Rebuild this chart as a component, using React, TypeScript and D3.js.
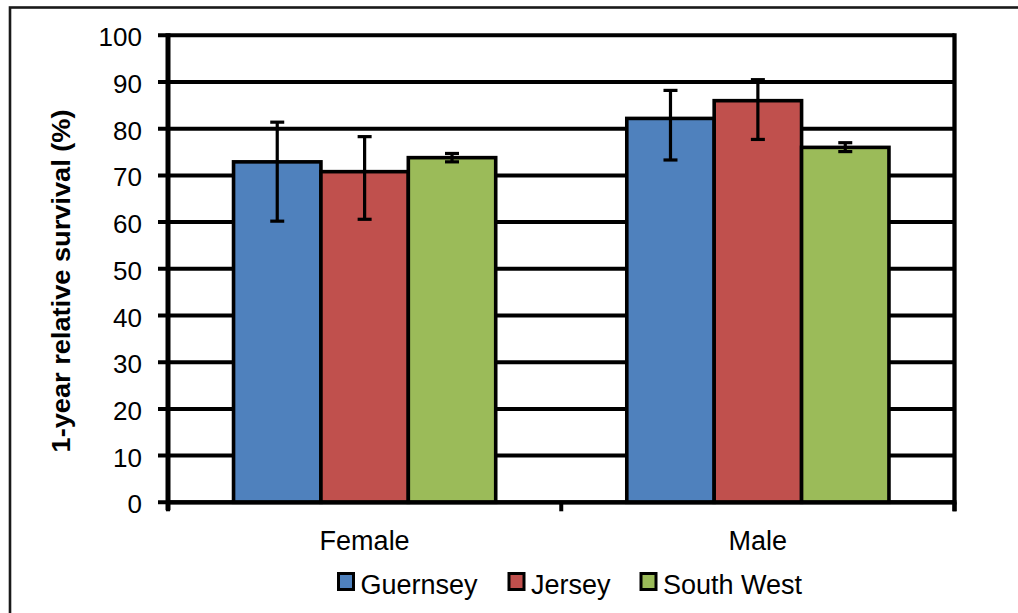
import React from "react";
import * as d3 from "d3";

const categories = ["Female", "Male"];
const seriesNames = ["Guernsey", "Jersey", "South West"];
const seriesColors = ["#4F81BD", "#C0504D", "#9BBB59"];

const guernsey = [72.9, 82.2];
const guernseyLow = [60.2, 73.3];
const guernseyHigh = [81.4, 88.2];

const jersey = [70.8, 86.0];
const jerseyLow = [60.6, 77.7];
const jerseyHigh = [78.3, 90.5];

const southWest = [73.8, 76.0];
const southWestLow = [72.9, 75.1];
const southWestHigh = [74.7, 77.0];

const yTicks = [0, 10, 20, 30, 40, 50, 60, 70, 80, 90, 100];

const W = 1018;
const H = 613;
const plotLeft = 168;
const plotRight = 954.5;
const plotTop = 35.3;
const plotBottom = 502.3;
const FONT = "'Liberation Sans', Arial, Helvetica, sans-serif";

const series = [
  { name: seriesNames[0], color: seriesColors[0], values: guernsey, low: guernseyLow, high: guernseyHigh },
  { name: seriesNames[1], color: seriesColors[1], values: jersey, low: jerseyLow, high: jerseyHigh },
  { name: seriesNames[2], color: seriesColors[2], values: southWest, low: southWestLow, high: southWestHigh },
];

const legendX = [337, 507.5, 639.5];

export default function App() {
  const y = d3.scaleLinear().domain([0, 100]).range([plotBottom, plotTop]);
  const x0 = d3.scaleBand<string>().domain(categories).range([plotLeft, plotRight]).padding(0);
  const x1 = d3
    .scaleBand<string>()
    .domain(seriesNames)
    .range([0, x0.bandwidth()])
    .paddingInner(0)
    .paddingOuter(0.75);

  const bounds = [plotLeft, ...categories.map((c) => (x0(c) as number) + x0.bandwidth())];

  return (
    <svg
      width={W}
      height={H}
      style={{ position: "absolute", left: 0, top: 0, background: "#fff" }}
      fontFamily={FONT}
    >
      <rect x={0} y={0} width={W} height={H} fill="#fff" />
      {/* outer chart border */}
      <rect x={10} y={7.5} width={1200} height={800} fill="none" stroke="#1a1a1a" strokeWidth={2.6} />

      {/* gridlines */}
      {yTicks.map((t) => (
        <line key={"g" + t} x1={plotLeft - 10} x2={plotRight} y1={y(t)} y2={y(t)} stroke="#000" strokeWidth={4} />
      ))}
      {/* right border */}
      <line x1={plotRight} x2={plotRight} y1={plotTop - 2} y2={plotBottom + 9} stroke="#000" strokeWidth={4.3} />

      {/* bars */}
      {series.map((s) =>
        categories.map((c, i) => {
          const bx = (x0(c) as number) + (x1(s.name) as number);
          return (
            <rect
              key={s.name + c}
              x={bx}
              y={y(s.values[i])}
              width={x1.bandwidth()}
              height={y(0) - y(s.values[i])}
              fill={s.color}
              stroke="#000"
              strokeWidth={3.6}
            />
          );
        })
      )}

      {/* error bars */}
      {series.map((s) =>
        categories.map((c, i) => {
          const cx = (x0(c) as number) + (x1(s.name) as number) + x1.bandwidth() / 2;
          return (
            <g key={"e" + s.name + c} stroke="#000" strokeWidth={3.2}>
              <line x1={cx} x2={cx} y1={y(s.high[i])} y2={y(s.low[i])} />
              <line x1={cx - 7} x2={cx + 7} y1={y(s.high[i])} y2={y(s.high[i])} />
              <line x1={cx - 7} x2={cx + 7} y1={y(s.low[i])} y2={y(s.low[i])} />
            </g>
          );
        })
      )}

      {/* axes */}
      <line x1={plotLeft} x2={plotLeft} y1={plotTop - 2} y2={plotBottom + 8} stroke="#000" strokeWidth={5} />
      <line x1={plotLeft - 2} x2={plotRight + 2} y1={plotBottom} y2={plotBottom} stroke="#000" strokeWidth={4.3} />
      {bounds.map((b, i) => (
        <line key={"xt" + i} x1={b} x2={b} y1={plotBottom} y2={plotBottom + 9} stroke="#000" strokeWidth={4} />
      ))}

      {/* y tick labels */}
      {yTicks.map((t) => (
        <text
          key={"yl" + t}
          x={142}
          y={y(t) + 11}
          textAnchor="end"
          fontSize={26}
          fill="#000"
        >
          {t}
        </text>
      ))}

      {/* x labels */}
      {categories.map((c) => (
        <text
          key={"xl" + c}
          x={(x0(c) as number) + x0.bandwidth() / 2}
          y={549.5}
          textAnchor="middle"
          fontSize={27}
          fill="#000"
        >
          {c}
        </text>
      ))}

      {/* y title */}
      <text
        transform={`translate(70, ${281}) rotate(-90)`}
        textAnchor="middle"
        fontSize={26}
        fontWeight="bold"
        fill="#000"
        textLength={343}
        lengthAdjust="spacingAndGlyphs"
      >
        1-year relative survival (%)
      </text>

      {/* legend */}
      {series.map((s, i) => (
        <g key={"lg" + s.name}>
          <rect x={legendX[i] + 1.5} y={573.5} width={15} height={16} fill={s.color} stroke="#000" strokeWidth={3} />
          <text x={legendX[i] + 23.5} y={594} fontSize={27} fill="#000">
            {s.name}
          </text>
        </g>
      ))}
    </svg>
  );
}
